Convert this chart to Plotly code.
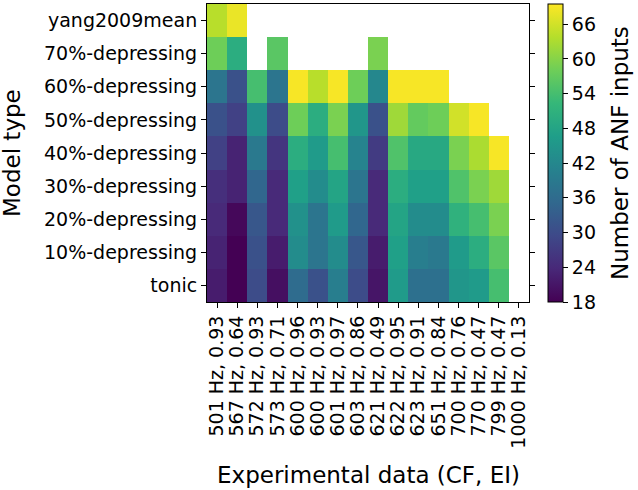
import plotly.graph_objects as go

x_labels = ["501 Hz, 0.93", "567 Hz, 0.64", "572 Hz, 0.93", "573 Hz, 0.71",
            "600 Hz, 0.96", "600 Hz, 0.93", "601 Hz, 0.97", "603 Hz, 0.86",
            "621 Hz, 0.49", "622 Hz, 0.95", "623 Hz, 0.91", "651 Hz, 0.84",
            "700 Hz, 0.76", "770 Hz, 0.47", "799 Hz, 0.47", "1000 Hz, 0.13"]

y_labels = ["tonic", "10%-depressing", "20%-depressing", "30%-depressing",
            "40%-depressing", "50%-depressing", "60%-depressing",
            "70%-depressing", "yang2009mean"]

N = None
# rows: bottom (tonic) to top (yang2009mean); columns follow x_labels
tonic      = [22, 18, 30, 20, 36, 31, 40, 30, 21, 46, 37, 37, 45, 46, 54, N]
dep10      = [23, 18, 31, 22, 43, 38, 43, 32, 22, 47, 40, 39, 46, 50, 56, N]
dep20      = [24, 19, 32, 24, 44, 38, 46, 35, 24, 48, 43, 43, 51, 54, 59, N]
dep30      = [25, 23, 35, 24, 47, 43, 48, 38, 24, 50, 47, 47, 55, 59, 62, N]
dep40      = [28, 23, 39, 26, 50, 46, 54, 41, 27, 55, 49, 49, 59, 63, 69, N]
dep50      = [31, 28, 44, 30, 58, 50, 59, 45, 31, 62, 57, 58, 66, 69, N, N]
dep60      = [38, 31, 54, 38, 69, 64, 69, 58, 42, 69, 69, 69, N, N, N, N]
dep70      = [58, 50, N, 56, N, N, N, N, 59, N, N, N, N, N, N, N]
yang       = [64, 68, N, N, N, N, N, N, N, N, N, N, N, N, N, N]

z = [tonic, dep10, dep20, dep30, dep40, dep50, dep60, dep70, yang]

cbar_ticks = [18, 24, 30, 36, 42, 48, 54, 60, 66]

font = "DejaVu Sans"

fig = go.Figure(go.Heatmap(
    z=z, x=x_labels, y=y_labels,
    colorscale="Viridis", zmin=18, zmax=69.5,
    hoverongaps=False,
    colorbar=dict(
        x=1.059, xanchor="left", xref="paper",
        y=0.5, yanchor="middle", len=1.0, lenmode="fraction",
        ypad=0, xpad=0,
        thickness=15, outlinecolor="black", outlinewidth=1,
        tickvals=cbar_ticks, ticks="outside", ticklen=5, tickcolor="black",
        tickfont=dict(family=font, size=19, color="black"),
    ),
))

fig.update_layout(
    width=638, height=490,
    margin=dict(l=207, r=109, t=4, b=188, autoexpand=False),
    plot_bgcolor="white", paper_bgcolor="white",
    font=dict(family=font, size=19, color="black"),
    showlegend=False,
)
fig.update_xaxes(
    type="category", tickangle=-90, ticks="outside", ticklen=5,
    tickmode="linear", tick0=0, dtick=1, automargin=False,
    tickcolor="black", showline=True, linecolor="black", linewidth=1,
    mirror=True, showgrid=False, zeroline=False,
    tickfont=dict(family=font, size=19, color="black"),
)
fig.update_yaxes(
    type="category", ticks="outside", ticklen=5, tickcolor="black",
    automargin=False,
    showline=True, linecolor="black", linewidth=1, mirror="ticks",
    showgrid=False, zeroline=False,
    tickfont=dict(family=font, size=19, color="black"),
)

fig.add_annotation(text="Experimental data (CF, EI)", xref="paper", yref="paper",
                   x=0.5, y=0, yshift=-173, xanchor="center", yanchor="middle",
                   showarrow=False, font=dict(family=font, size=23, color="black"))
fig.add_annotation(text="Model type", xref="paper", yref="paper",
                   x=0, y=0.5, xshift=-195, xanchor="center", yanchor="middle",
                   textangle=-90, showarrow=False,
                   font=dict(family=font, size=23, color="black"))
fig.add_annotation(text="Number of ANF inputs", xref="paper", yref="paper",
                   x=1, y=0.5, xshift=91, xanchor="center", yanchor="middle",
                   textangle=-90, showarrow=False,
                   font=dict(family=font, size=23, color="black"))

fig.write_html("out.html", config={"displayModeBar": False},
               post_script="document.body.style.margin='0';")
